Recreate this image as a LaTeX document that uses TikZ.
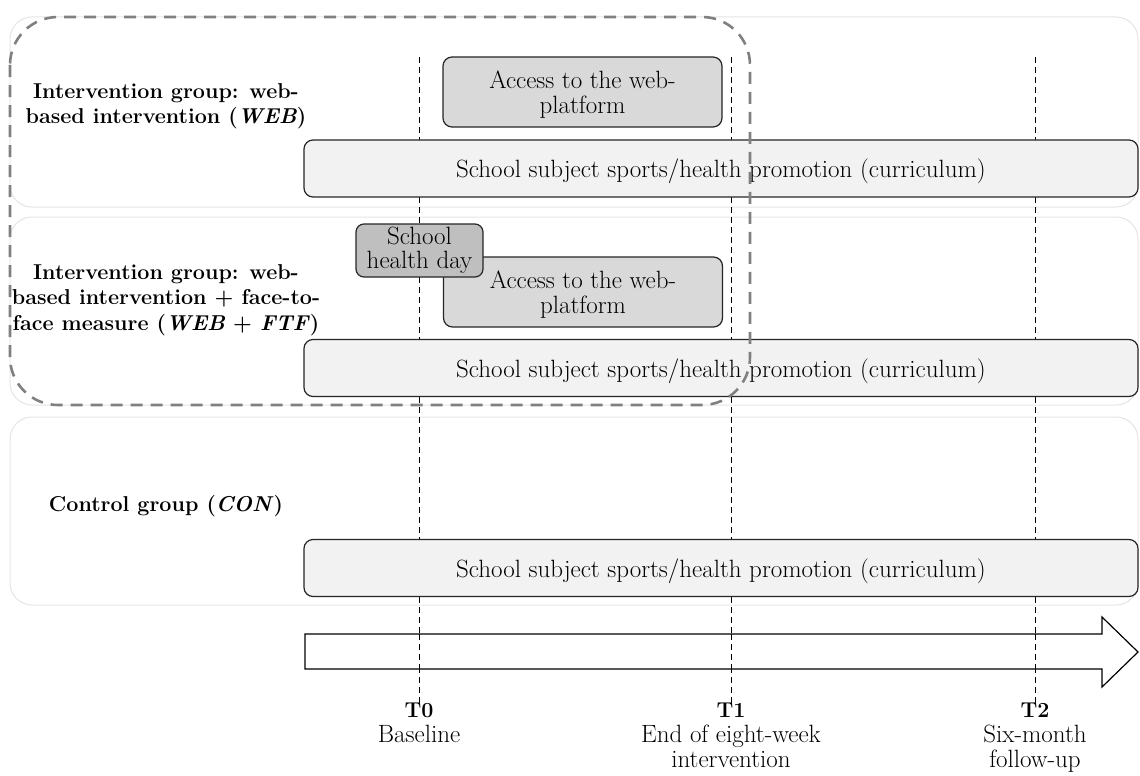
\documentclass[tikz,border=0pt]{standalone}
\usetikzlibrary{positioning}
\begin{document}
\begin{tikzpicture}[x=1pt,y=-1pt,
  fnt/.style={font=\fontsize{25}{24.5}\selectfont},
  bfnt/.style={font=\fontsize{21.5}{25.5}\selectfont\bfseries},
  band/.style={draw=black!10, line width=1pt, rounded corners=22pt, fill=white},
  curr/.style={draw=black!85, line width=1.2pt, rounded corners=9pt, fill=black!5, fnt, minimum width=834pt, minimum height=57pt, inner sep=0pt, text depth=0pt},
  acc/.style={draw=black!85, line width=1.2pt, rounded corners=9pt, fill=black!15, fnt, align=center, minimum width=279pt, minimum height=70pt, inner sep=0pt, text depth=0pt},
  shd/.style={draw=black!85, line width=1.2pt, rounded corners=8pt, fill=black!25, fnt, align=center, minimum width=127pt, minimum height=53pt, inner sep=0pt},
  grp/.style={bfnt, align=center},
  tick/.style={black, line width=0.9pt, dash pattern=on 6pt off 4pt},
  tlab/.style={fnt, align=center, anchor=north, inner sep=0pt},
  grpbox/.style={draw=black!50, line width=2.6pt, dash pattern=on 12pt off 8pt, rounded corners=48pt}
]
\useasboundingbox (0,0) rectangle (1140,776);
% bands
\draw[band] (10,17) rectangle (1138,207);
\draw[band] (10,217) rectangle (1138,405);
\draw[band] (10,417) rectangle (1138,605);
% time labels
\node[tlab, bfnt] (T0) at (419,703) {T0};
\node[tlab, bfnt] (T1) at (731,703) {T1};
\node[tlab, bfnt] (T2) at (1035,703) {T2};
\node[tlab] (T0d) at (419,725) {Baseline};
\node[tlab] (T1d) at (731,725) {End of eight-week\\intervention};
\node[tlab] (T2d) at (1035,725) {Six-month\\follow-up};
\coordinate (t0top) at (419,57);
\coordinate (t1top) at (731,57);
\coordinate (t2top) at (1035,57);
\draw[tick] (t0top) -- (T0.north);
\draw[tick] (t1top) -- (T1.north);
\draw[tick] (t2top) -- (T2.north);
% group labels
\node[grp] (g1) at (166,106) {Intervention group: web-\\based intervention (\textit{WEB})};
\node[grp] (g2) at (166,300) {Intervention group: web-\\based intervention + face-to-\\face measure (\textit{WEB} + \textit{FTF})};
\node[grp] (g3) at (166,506) {Control group (\textit{CON})};
% boxes
\node[acc] (a1) at (582.5,92) {Access to the web-\\platform};
\node[curr] (c1) at (721,168.5) {School subject sports/health promotion (curriculum)};
\node[acc] (a2) at (583,292) {Access to the web-\\platform};
\node[shd] (s) at (419.5,250.5) {School\\health day};
\node[curr] (c2) at (721,368) {School subject sports/health promotion (curriculum)};
\node[curr] (c3) at (721,568) {School subject sports/health promotion (curriculum)};
% time arrow
\draw[line width=1.2pt, fill=white] (305,634) -- (1102,634) -- (1102,617) -- (1138,652) -- (1102,687) -- (1102,669) -- (305,669) -- cycle;
\draw[tick] (419,634) -- (419,669);
\draw[tick] (731,634) -- (731,669);
\draw[tick] (1035,634) -- (1035,669);
% dashed grouping
\draw[grpbox] (10,17) rectangle (750,405);
\end{tikzpicture}
\end{document}
